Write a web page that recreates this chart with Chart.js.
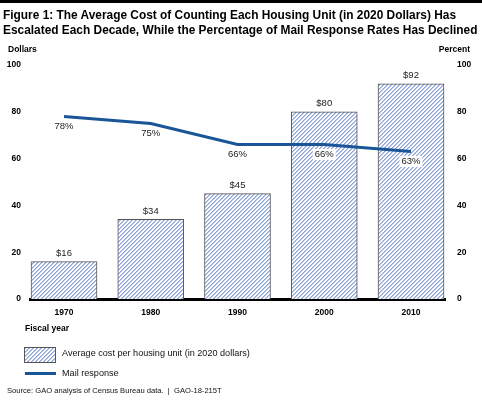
<!DOCTYPE html>
<html>
<head>
<meta charset="utf-8">
<script src="https://cdn.jsdelivr.net/npm/chart.js@4.4.1/dist/chart.umd.min.js"></script>
<style>
  body { margin:0; width:482px; height:403px; overflow:hidden; background:#fff;
         font-family:"Liberation Sans", Arial, sans-serif; position:relative; color:#000; }
  .abs { position:absolute; white-space:nowrap; }
  #chartWrap { position:absolute; left:0; top:0; width:482px; height:403px; }
  #topbar { left:0; top:0; width:482px; height:3px; background:#000; }
  #title { left:3px; top:8px; font-weight:bold; font-size:11.9px; line-height:14.5px; }
  .unit { top:44px; font-weight:bold; font-size:8.5px; }
  #fiscal { left:25px; top:323px; font-weight:bold; font-size:8.5px; }
  #legBox { left:24px; top:347px; width:30px; height:14px; border:1px solid #555; }
  #legLine { left:25px; top:372px; width:31px; height:3px; background:#1a5597; }
  .legText { left:62px; font-size:9.1px; color:#111; }
  #source { left:7px; top:386px; font-size:7.6px; color:#111; }
</style>
</head>
<body>
<div id="chartWrap"><canvas id="costChart"></canvas></div>
<div class="abs" id="topbar"></div>
<div class="abs" id="title">Figure 1: The Average Cost of Counting Each Housing Unit (in 2020 Dollars) Has<br>Escalated Each Decade, While the Percentage of Mail Response Rates Has Declined</div>
<div class="abs unit" style="left:8px">Dollars</div>
<div class="abs unit" style="right:12px">Percent</div>
<div class="abs" id="fiscal">Fiscal year</div>
<canvas class="abs" id="legBox" width="30" height="14"></canvas>
<div class="abs legText" style="top:348px">Average cost per housing unit (in 2020 dollars)</div>
<div class="abs" id="legLine"></div>
<div class="abs legText" style="top:368px">Mail response</div>
<div class="abs" id="source">Source: GAO analysis of Census Bureau data.&nbsp; |&nbsp; GAO-18-215T</div>

<script>
// ---- data ----
const YEARS = ['1970', '1980', '1990', '2000', '2010'];
const COST = [16, 34, 45, 80, 92];        // dollars per housing unit
const MAIL = [78, 75, 66, 66, 63];        // mail response, percent
const Y_TICKS = [0, 20, 40, 60, 80, 100];

const FONT = '"Liberation Sans", Arial, sans-serif';
const LINE_BLUE = '#1a5597';

// diagonal hatch used by the bars and the legend swatch (pixel drawn, 4px step)
function makeHatch(ctx) {
  const c = document.createElement('canvas');
  c.width = 4; c.height = 4;
  const g = c.getContext('2d');
  g.fillStyle = '#ffffff';
  g.fillRect(0, 0, 4, 4);
  for (let i = 0; i < 4; i++) {
    g.fillStyle = '#b9c7e8';
    g.fillRect((i + 1) % 4, 3 - i, 1, 1);
    g.fillStyle = '#8ea3d8';
    g.fillRect(i, 3 - i, 1, 1);
  }
  return ctx.createPattern(c, 'repeat');
}

const mainCtx = document.getElementById('costChart').getContext('2d');
const hatch = makeHatch(mainCtx);

// legend swatch
const lg = document.getElementById('legBox').getContext('2d');
lg.fillStyle = makeHatch(lg);
lg.fillRect(0, 0, 30, 14);

// "$16" over the bars, "78%" under the line points
const valueLabels = {
  id: 'valueLabels',
  afterDatasetsDraw(chart) {
    const ctx = chart.ctx;
    ctx.save();
    ctx.font = '9.5px ' + FONT;
    ctx.textAlign = 'center';
    ctx.textBaseline = 'middle';
    chart.getDatasetMeta(0).data.forEach((b, i) => {
      ctx.fillStyle = '#222';
      ctx.fillText('$' + COST[i], b.x, b.y - 8);
    });
    chart.getDatasetMeta(1).data.forEach((p, i) => {
      const t = MAIL[i] + '%';
      const w = ctx.measureText(t).width + 4;
      ctx.fillStyle = '#ffffff';
      ctx.fillRect(p.x - w / 2, p.y + 4.5, w, 11);
      ctx.fillStyle = '#222';
      ctx.fillText(t, p.x, p.y + 10);
    });
    ctx.restore();
  }
};

const tickFont = { family: FONT, size: 8.5, weight: 'bold' };

new Chart(mainCtx, {
  data: {
    datasets: [
      {
        type: 'bar',
        label: 'Average cost per housing unit (in 2020 dollars)',
        data: COST.map((v, i) => ({ x: i, y: v })),
        backgroundColor: hatch,
        borderColor: '#555555',
        borderWidth: 1,
        barThickness: 66,
        yAxisID: 'y',
        order: 2
      },
      {
        type: 'line',
        label: 'Mail response',
        data: MAIL.map((v, i) => ({ x: i, y: v })),
        borderColor: LINE_BLUE,
        borderWidth: 3,
        pointRadius: 0,
        tension: 0,
        yAxisID: 'y2',
        order: 1
      }
    ]
  },
  options: {
    responsive: true,
    maintainAspectRatio: false,
    animation: false,
    layout: { padding: { top: 65 } },
    plugins: { legend: { display: false }, tooltip: { enabled: false } },
    scales: {
      x: {
        type: 'linear',
        offset: false,
        min: -0.392,
        max: 4.392,
        z: 1,
        afterBuildTicks: s => { s.ticks = YEARS.map((_, i) => ({ value: i })); },
        afterFit: s => { s.height = 104; },
        grid: { display: false, drawTicks: false },
        border: { display: true, color: '#000', width: 3 },
        ticks: { color: '#000', font: tickFont, padding: 9, maxRotation: 0,
                 callback: v => YEARS[v] }
      },
      y: {
        position: 'left',
        min: 0, max: 100,
        afterBuildTicks: s => { s.ticks = Y_TICKS.map(v => ({ value: v })); },
        afterFit: s => { s.width = 30; },
        grid: { display: false, drawTicks: false },
        border: { display: false },
        ticks: { color: '#000', font: tickFont, padding: 9 }
      },
      y2: {
        position: 'right',
        min: 0, max: 100,
        afterBuildTicks: s => { s.ticks = Y_TICKS.map(v => ({ value: v })); },
        afterFit: s => { s.width = 37; },
        grid: { display: false, drawTicks: false },
        border: { display: false },
        ticks: { color: '#000', font: tickFont, padding: 12 }
      }
    }
  },
  plugins: [valueLabels]
});
</script>
</body>
</html>
